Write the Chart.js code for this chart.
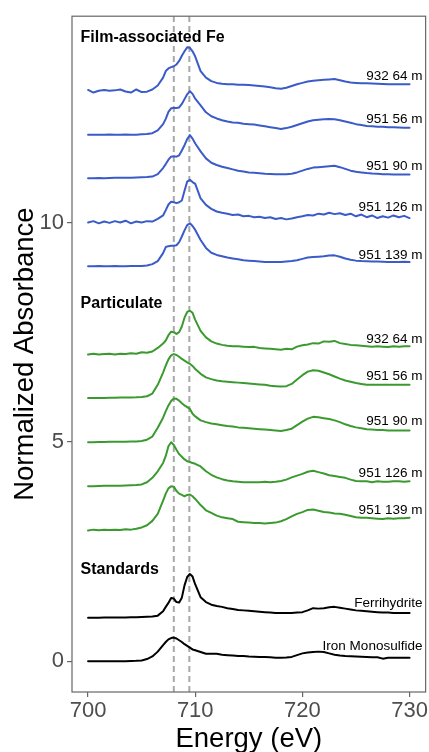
<!DOCTYPE html>
<html><head><meta charset="utf-8">
<script src="https://cdn.jsdelivr.net/npm/chart.js@4"></script>
<style>html,body{margin:0;padding:0;background:#fff;}canvas{display:block;}</style>
</head><body>
<canvas id="c" width="429" height="752"></canvas>
<script>
// Energy grid (eV)
const energy = [700,700.5,701,701.5,702,702.5,703,703.5,704,704.5,705,705.5,706,706.5,707,707.25,707.5,707.75,708,708.25,708.5,708.75,709,709.25,709.5,709.75,710,710.5,711,711.5,712,712.5,713,713.5,714,714.5,715,715.5,716,716.5,717,717.5,718,718.5,719,719.5,720,720.5,721,721.5,722,722.5,723,723.5,724,724.5,725,725.5,726,726.5,727,727.5,728,728.5,729,729.5,730];

// Film-associated Fe spectra (before offset)
const film_932_64 = [.02,-.04,0,.02,0,.01,.03,-.015,-.04,.03,-.03, -.02,.03,.12,.30, .45,.51,.54,.56,.60,.68,.80,.90,.99,.98,.90,.78, .45,.30,.22, .18,.16,.15,.15,.14,.14,.13,.12,.11,.10,.08,.06,.045,.07,.11,.15,.18,.21,.23,.24,.25,.26,.27,.24,.21,.19,.18,.17,.17,.165,.16,.155,.15,.15,.15,.15,.15];
const film_951_56 = [0,0,0,0,.005,0,0,.005,0,0,.01, .015,.035,.10,.24, .36,.52,.60,.61,.61,.62,.70,.81,.92,.99,.93,.82, .67,.51,.42, .37,.33,.30,.28,.27,.25,.24,.23,.21,.19,.17,.15,.13,.15,.18,.22,.26,.30,.33,.34,.35,.36,.35,.33,.30,.27,.24,.22,.20,.19,.18,.18,.17,.17,.165,.16,.16];
const film_951_90 = [.01,.01,.015,.01,.015,.02,.02,.02,.02,.025,.03, .035,.045,.10,.24, .33,.43,.50,.51,.50,.53,.64,.76,.90,.99,.91,.80, .62,.46,.36, .31,.27,.24,.21,.18,.16,.14,.13,.12,.11,.105,.10,.10,.10,.11,.14,.18,.22,.25,.26,.27,.28,.29,.26,.22,.18,.155,.14,.125,.115,.11,.10,.10,.095,.095,.09,.09];
const film_951_126 = [0,.03,-.02,.02,-.01,.03,0,.04,-.02,.02,0, .03,.02,.08,.16, .28,.41,.47,.46,.44,.46,.50,.72,.93,.97,.92,.88, .55,.40,.31, .25,.22,.20,.17,.18,.14,.15,.12,.13,.10,.12,.08,.10,.07,.09,.12,.14,.17,.16,.20,.18,.22,.19,.21,.17,.20,.14,.18,.12,.16,.10,.14,.11,.16,.12,.15,.10];
const film_951_139 = [0,0,.005,0,0,.005,0,0,.005,.01,.01, .02,.05,.12,.30, .44,.46,.47,.47,.48,.55,.68,.82,.94,.98,.92,.83, .60,.42,.31, .26,.23,.20,.18,.16,.14,.13,.12,.11,.10,.10,.10,.10,.11,.12,.14,.17,.20,.21,.22,.23,.245,.25,.22,.18,.15,.13,.12,.115,.11,.11,.105,.10,.10,.10,.105,.10];

// Particulate spectra (before offset)
const part_932_64 = [-.01,.01,-.01,0,.01,-.01,.01,0,.02,.01,.04, .03,.06,.14,.24, .31,.43,.51,.50,.46,.50,.63,.83,.96,.99,.94,.78, .53,.38,.29, .24,.21,.19,.18,.18,.17,.16,.165,.14,.13,.12,.11,.10,.12,.11,.17,.20,.22,.25,.24,.29,.28,.30,.25,.23,.21,.20,.19,.18,.17,.18,.17,.16,.18,.17,.18,.18];
const part_951_56 = [0,0,0,0,.005,.005,.01,.01,.01,.015,.025, .04,.10,.30,.58, .74,.88,.97,1.0,.98,.94,.89,.85,.81,.78,.73,.66, .55,.47,.43, .40,.38,.37,.36,.35,.34,.33,.32,.31,.30,.28,.27,.26,.27,.32,.42,.52,.60,.63,.62,.58,.54,.49,.44,.40,.37,.34,.32,.30,.30,.30,.30,.30,.30,.30,.30,.30];
const part_951_90 = [-.01,-.01,-.005,-.005,0,0,0,.005,.01,.01,.02, .05,.12,.32,.55, .70,.83,.93,.99,.98,.94,.88,.83,.79,.75,.64,.58, .49,.45,.42, .40,.38,.36,.35,.33,.32,.31,.30,.29,.28,.27,.26,.25,.27,.30,.38,.46,.53,.57,.56,.54,.52,.49,.45,.40,.36,.33,.31,.29,.28,.27,.27,.26,.26,.26,.26,.26];
const part_951_126 = [-.01,-.01,-.005,0,0,0,0,.005,.01,.015,.03, .08,.18,.33,.52, .68,.90,.99,.93,.82,.72,.66,.60,.56,.54,.52,.50, .44,.33,.25, .19,.15,.12,.10,.09,.08,.08,.08,.08,.09,.08,.09,.11,.14,.19,.23,.27,.32,.34,.31,.28,.24,.22,.20,.18,.14,.11,.10,.10,.08,.10,.09,.09,.10,.10,.09,.10];
const part_951_139 = [-.02,0,-.015,0,-.01,0,-.01,.01,0,.02,.05, .10,.20,.36,.66, .82,.94,.99,.98,.88,.82,.79,.76,.79,.80,.76,.70, .56,.44,.38, .32,.28,.26,.24,.18,.17,.16,.15,.15,.14,.15,.16,.19,.24,.30,.36,.40,.45,.46,.43,.40,.39,.37,.36,.34,.31,.28,.27,.27,.26,.25,.24,.26,.25,.26,.26,.27];

// Standards (before offset)
const std_ferrihydrite = [-.01,-.01,-.01,-.005,-.005,0,0,0,.005,.005,.01, .015,.02,.04,.14, .24,.33,.44,.43,.35,.34,.45,.73,.92,.99,.93,.75, .46,.35,.29, .26,.24,.21,.19,.17,.16,.15,.14,.13,.12,.11,.10,.10,.10,.10,.11,.12,.16,.21,.20,.21,.23,.24,.22,.20,.18,.16,.15,.14,.13,.12,.11,.11,.10,.10,.10,.10];
const std_fes = [0,0,0,0,0,0,0,0,.005,.01,.02, .05,.11,.22,.37, .44,.50,.53,.54,.52,.48,.44,.39,.35,.31,.27,.25, .21,.17,.17, .17,.15,.14,.13,.12,.12,.11,.105,.10,.095,.09,.08,.08,.085,.10,.14,.18,.20,.21,.22,.21,.18,.15,.13,.12,.115,.11,.105,.10,.09,.09,.06,.08,.08,.08,.08,.08];

const seriesValues = [film_932_64, film_951_56, film_951_90, film_951_126, film_951_139,
                      part_932_64, part_951_56, part_951_90, part_951_126, part_951_139,
                      std_ferrihydrite, std_fes];
const seriesLabels = ['932 64 m','951 56 m','951 90 m','951 126 m','951 139 m',
                      '932 64 m','951 56 m','951 90 m','951 126 m','951 139 m',
                      'Ferrihydrite','Iron Monosulfide'];
const seriesOffsets = [13,12,11,10,9, 7,6,5,4,3, 1,0];
const seriesGroup = [0,0,0,0,0, 1,1,1,1,1, 2,2];
const labelY = [13.32,12.36,11.29,10.35,9.26, 7.33,6.50,5.47,4.29,3.44, 1.33,0.35];
const labelX = 731.2;
const groupTitles = ['Film-associated Fe','Particulate','Standards'];
const groupTitleY = [14.21,8.15,2.08];
const groupTitleX = 699.3;
const groupColors = ['#3a5bc8','#3b9a2f','#000000'];
const refLines = [708.0, 709.45];
const xTicks = [700,710,720,730];
const yTicks = [0,5,10];

const FONT = "'Liberation Sans', Arial, Helvetica, sans-serif";
Chart.defaults.font.family = FONT;

const datasets = seriesValues.map((vals, i) => ({
  label: seriesLabels[i],
  data: energy.map((e, j) => ({x: e, y: vals[j] + seriesOffsets[i]})),
  borderColor: groupColors[seriesGroup[i]],
  borderWidth: 2,
  pointRadius: 0,
  tension: 0,
  fill: false,
  borderJoinStyle: 'round',
  borderCapStyle: 'round'
}));

const annot = {
  id: 'annot',
  beforeDatasetsDraw(chart) {
    const {ctx, chartArea, scales} = chart;
    ctx.save();
    ctx.beginPath();
    ctx.rect(chartArea.left, chartArea.top, chartArea.right - chartArea.left, chartArea.bottom - chartArea.top);
    ctx.clip();
    ctx.strokeStyle = '#a8a8a8';
    ctx.lineWidth = 2;
    ctx.setLineDash([6, 4]);
    refLines.forEach(v => {
      const x = scales.x.getPixelForValue(v);
      ctx.beginPath();
      ctx.moveTo(x, chartArea.bottom);
      ctx.lineTo(x, chartArea.top);
      ctx.stroke();
    });
    ctx.restore();
  },
  afterDraw(chart) {
    const {ctx, chartArea, scales} = chart;
    ctx.save();
    ctx.strokeStyle = '#666666';
    ctx.lineWidth = 1.2;
    ctx.strokeRect(chartArea.left, chartArea.top, chartArea.right - chartArea.left, chartArea.bottom - chartArea.top);
    ctx.fillStyle = '#000';
    ctx.font = "13.5px " + FONT;
    ctx.textAlign = 'right';
    ctx.textBaseline = 'middle';
    seriesLabels.forEach((t, i) => {
      ctx.fillText(t, scales.x.getPixelForValue(labelX), scales.y.getPixelForValue(labelY[i]));
    });
    ctx.font = "bold 16px " + FONT;
    ctx.textAlign = 'left';
    groupTitles.forEach((t, i) => {
      ctx.fillText(t, scales.x.getPixelForValue(groupTitleX), scales.y.getPixelForValue(groupTitleY[i]));
    });
    ctx.font = "27.5px " + FONT;
    ctx.textAlign = 'center';
    ctx.textBaseline = 'alphabetic';
    ctx.fillText('Energy (eV)', (chartArea.left + chartArea.right) / 2, 747);
    ctx.translate(33, (chartArea.top + chartArea.bottom) / 2);
    ctx.rotate(-Math.PI / 2);
    ctx.fillText('Normalized Absorbance', 0, 0);
    ctx.restore();
  }
};

new Chart(document.getElementById('c'), {
  type: 'line',
  data: {datasets},
  options: {
    responsive: false,
    animation: false,
    devicePixelRatio: 1,
    layout: {padding: {left: 0, top: 12, right: 2, bottom: 0}},
    plugins: {legend: {display: false}, tooltip: {enabled: false}},
    scales: {
      x: {
        type: 'linear', min: 698.5, max: 731.5,
        afterBuildTicks: s => { s.ticks = xTicks.map(v => ({value: v})); },
        afterFit: s => { s.height = 60; },
        grid: {display: true, drawOnChartArea: false, drawTicks: true, tickLength: 5, color: '#666666', lineWidth: 1.2},
        border: {display: false},
        ticks: {font: {size: 22}, color: '#4d4d4d', padding: 1, maxRotation: 0, autoSkip: false}
      },
      y: {
        type: 'linear', min: -0.7, max: 14.7,
        afterBuildTicks: s => { s.ticks = yTicks.map(v => ({value: v})); },
        afterFit: s => { s.width = 72; },
        grid: {display: true, drawOnChartArea: false, drawTicks: true, tickLength: 5, color: '#666666', lineWidth: 1.2},
        border: {display: false},
        ticks: {font: {size: 22}, color: '#4d4d4d', padding: 3}
      }
    }
  },
  plugins: [annot]
});
</script>
</body></html>
